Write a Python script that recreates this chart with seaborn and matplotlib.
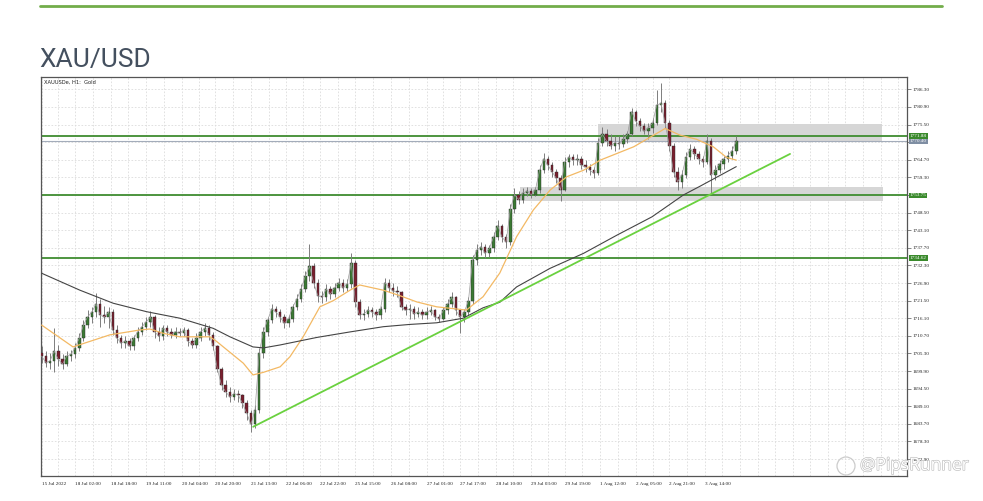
import numpy as np
import pandas as pd
import seaborn as sns
import matplotlib.pyplot as plt
import matplotlib.patheffects as pe
from matplotlib.lines import Line2D
from matplotlib.patches import Rectangle, Ellipse
import matplotlib.transforms as mtransforms

first_open = 1705.5
close = [1704.5, 1702.5, 1703.0, 1706.0, 1703.5, 1702.0, 1704.5, 1705.0, 1707.0, 1710.0,
         1714.0, 1716.5, 1718.0, 1720.5, 1717.0, 1716.5, 1718.0, 1712.5, 1710.0, 1708.5,
         1709.0, 1707.5, 1710.0, 1712.0, 1713.5, 1715.0, 1716.5, 1712.0, 1710.5, 1713.0,
         1712.0, 1711.0, 1712.0, 1711.5, 1712.5, 1709.0, 1708.0, 1710.0, 1712.0, 1713.0,
         1711.0, 1707.5, 1700.5, 1695.5, 1693.5, 1692.0, 1693.0, 1692.5, 1690.0, 1687.0,
         1683.5, 1688.0, 1705.5, 1712.0, 1715.5, 1719.0, 1718.0, 1716.5, 1714.5, 1716.0,
         1719.5, 1722.0, 1725.0, 1729.0, 1732.0, 1727.0, 1723.0, 1722.5, 1725.0, 1723.5,
         1725.5, 1727.0, 1725.5, 1726.5, 1733.0, 1721.0, 1717.0, 1717.5, 1718.5, 1718.0,
         1717.0, 1719.0, 1727.0, 1725.5, 1724.5, 1724.0, 1719.5, 1718.5, 1719.0, 1717.5,
         1718.0, 1717.0, 1718.0, 1718.5, 1716.5, 1716.0, 1718.5, 1720.5, 1722.5, 1718.5,
         1716.5, 1718.0, 1721.5, 1734.0, 1737.0, 1738.0, 1736.0, 1737.5, 1741.0, 1744.5,
         1741.0, 1739.5, 1749.5, 1754.0, 1752.5, 1754.5, 1755.0, 1754.0, 1755.5, 1761.5,
         1765.0, 1763.0, 1761.0, 1759.0, 1755.5, 1764.0, 1765.5, 1764.5, 1765.0, 1763.0,
         1762.5, 1761.5, 1760.5, 1770.0, 1772.5, 1770.5, 1769.0, 1770.0, 1769.5, 1771.0,
         1772.5, 1779.5, 1776.5, 1775.0, 1773.5, 1774.5, 1776.0, 1781.5, 1782.0, 1776.0,
         1769.0, 1761.0, 1758.0, 1760.0, 1765.5, 1768.0, 1766.5, 1765.0, 1764.0, 1770.5,
         1760.0, 1761.5, 1763.5, 1765.0, 1766.0, 1767.5, 1770.4]
high = [1707.5, 1706.0, 1705.5, 1713.0, 1708.0, 1705.0, 1706.0, 1706.5, 1708.5, 1711.5,
        1715.5, 1718.5, 1719.5, 1723.7, 1722.0, 1720.0, 1719.5, 1719.0, 1714.0, 1711.0,
        1710.5, 1710.0, 1711.0, 1713.5, 1715.0, 1716.5, 1718.2, 1717.0, 1713.5, 1714.0,
        1714.0, 1713.0, 1713.5, 1713.0, 1713.5, 1713.0, 1710.0, 1711.5, 1713.5, 1714.5,
        1714.0, 1712.0, 1708.0, 1701.0, 1697.0, 1695.0, 1694.5, 1694.0, 1693.0, 1691.0,
        1688.0, 1689.5, 1707.0, 1713.5, 1716.5, 1720.5, 1720.0, 1719.0, 1717.5, 1717.0,
        1720.5, 1723.5, 1726.5, 1730.5, 1739.0, 1733.0, 1728.0, 1724.5, 1726.5, 1726.0,
        1727.0, 1728.5, 1728.0, 1728.0, 1736.0, 1734.0, 1722.0, 1719.0, 1720.0, 1719.5,
        1719.0, 1720.0, 1728.5, 1728.0, 1727.0, 1726.0, 1724.5, 1720.5, 1720.5, 1720.0,
        1719.5, 1719.0, 1719.5, 1720.0, 1719.0, 1717.5, 1719.5, 1722.0, 1724.0, 1723.0,
        1719.0, 1719.0, 1722.5, 1735.5, 1739.0, 1739.5, 1739.0, 1738.5, 1742.5, 1746.2,
        1745.0, 1742.0, 1751.0, 1756.0, 1755.0, 1756.0, 1756.5, 1756.0, 1756.5, 1763.0,
        1766.7, 1766.0, 1764.0, 1762.0, 1760.0, 1765.5, 1766.5, 1766.5, 1766.5, 1766.0,
        1764.5, 1763.5, 1762.5, 1771.5, 1774.8, 1774.0, 1772.5, 1772.0, 1772.0, 1772.5,
        1773.5, 1780.5, 1780.0, 1777.5, 1776.0, 1776.0, 1777.5, 1786.0, 1788.2, 1783.0,
        1777.0, 1770.0, 1762.5, 1761.5, 1767.0, 1769.5, 1769.0, 1767.5, 1766.0, 1772.5,
        1771.5, 1763.0, 1764.5, 1766.0, 1767.5, 1769.0, 1772.0]
low = [1702.5, 1701.0, 1700.5, 1699.5, 1701.5, 1700.5, 1701.5, 1703.0, 1704.0, 1706.0,
       1709.0, 1713.0, 1714.5, 1716.5, 1713.5, 1714.5, 1713.0, 1711.0, 1708.5, 1707.0,
       1707.0, 1706.5, 1706.5, 1709.0, 1711.0, 1712.5, 1713.5, 1710.0, 1709.0, 1709.5,
       1710.5, 1710.0, 1710.0, 1710.5, 1710.5, 1707.5, 1707.0, 1707.0, 1709.0, 1710.5,
       1709.5, 1706.5, 1699.5, 1694.0, 1692.0, 1690.5, 1691.0, 1690.5, 1688.5, 1685.0,
       1681.3, 1682.5, 1687.0, 1704.0, 1710.5, 1714.5, 1716.5, 1715.0, 1713.0, 1713.5,
       1715.0, 1718.5, 1721.0, 1724.0, 1727.5, 1725.5, 1721.0, 1720.7, 1721.5, 1722.0,
       1722.5, 1724.5, 1724.0, 1724.5, 1725.5, 1719.5, 1716.0, 1715.5, 1716.5, 1716.5,
       1715.5, 1716.0, 1718.0, 1724.0, 1723.0, 1722.5, 1718.5, 1717.0, 1716.0, 1716.0,
       1716.5, 1716.0, 1716.0, 1717.0, 1715.5, 1715.0, 1715.5, 1717.5, 1719.5, 1717.0,
       1711.5, 1715.0, 1717.0, 1720.5, 1732.5, 1735.5, 1734.5, 1735.0, 1736.5, 1740.0,
       1739.5, 1737.5, 1738.5, 1748.5, 1751.0, 1751.5, 1753.5, 1753.0, 1753.5, 1754.5,
       1760.5, 1761.5, 1759.5, 1757.5, 1752.0, 1755.0, 1762.5, 1763.0, 1763.0, 1762.0,
       1761.0, 1760.0, 1759.0, 1760.0, 1769.0, 1769.0, 1768.0, 1767.5, 1768.0, 1768.5,
       1770.0, 1772.0, 1775.0, 1773.5, 1772.5, 1771.0, 1773.0, 1775.5, 1779.5, 1774.5,
       1767.5, 1759.5, 1755.4, 1756.0, 1759.0, 1764.5, 1765.0, 1763.5, 1762.5, 1763.5,
       1754.4, 1758.5, 1760.5, 1762.0, 1764.0, 1765.0, 1766.5]

# moving averages read at a few points along the lines
ma_fast_h = [0, 15, 32.6, 47, 51.8, 58, 66, 80.5, 83.6, 96.4, 101, 106, 114, 118.7, 125, 133,
             139.4, 147.4, 152, 163.3, 171.3, 179.3, 188.8, 203, 211, 219, 227, 235, 243, 251,
             259, 267, 283, 294, 298, 305, 313, 321, 327.4, 332]
ma_fast = [1714.0, 1707.3, 1711.0, 1712.5, 1712.8, 1711.5, 1710.4, 1710.4, 1709.0, 1702.3,
           1698.7, 1699.5, 1701.2, 1704.3, 1710.4, 1719.6, 1721.5, 1724.7, 1726.3, 1724.7,
           1723.0, 1721.1, 1719.6, 1718.6, 1722.7, 1730.0, 1741.1, 1749.3, 1755.4, 1759.5,
           1761.5, 1764.6, 1768.7, 1772.8, 1774.3, 1772.3, 1771.0, 1768.7, 1765.4, 1764.6]
ma_slow_h = [0, 18.3, 34.2, 50.2, 66.1, 82, 90, 101, 106, 114, 131.5, 147.4, 163.3, 176,
             188.8, 201.5, 211, 219, 227, 243, 259, 275, 291.7, 306.7, 314.7, 332]
ma_slow = [1729.9, 1724.7, 1720.7, 1718.1, 1716.1, 1713.0, 1710.4, 1707.3, 1707.0, 1707.9,
           1710.2, 1711.9, 1713.5, 1714.2, 1714.7, 1716.1, 1719.3, 1721.0, 1725.7, 1731.4,
           1736.0, 1741.6, 1747.2, 1753.9, 1756.6, 1762.6]

levels = [1771.88, 1753.75, 1734.62]
bid = 1770.40
zone_start = [266, 228.6]
zone_end = [401.5, 402.3]
zone_low = [1770.5, 1752.0]
zone_high = [1775.6, 1756.4]
trend_h = [101.1, 357.7]
trend_p = [1682.8, 1766.5]

tick_h = [0, 16, 33, 50, 67, 83, 100, 117, 133, 150, 167, 184, 200, 217, 234, 250, 267,
          284, 300, 317]
tick_labels = ['15 Jul 2022', '18 Jul 02:00', '18 Jul 18:00', '19 Jul 11:00', '20 Jul 04:00',
               '20 Jul 20:00', '21 Jul 13:00', '22 Jul 06:00', '22 Jul 22:00', '25 Jul 15:00',
               '26 Jul 08:00', '27 Jul 01:00', '27 Jul 17:00', '28 Jul 10:00', '29 Jul 03:00',
               '29 Jul 19:00', '1 Aug 12:00', '2 Aug 05:00', '2 Aug 21:00', '3 Aug 14:00']
y_ticks = [1672.9, 1678.3, 1683.7, 1689.1, 1694.5, 1699.9, 1705.3, 1710.7, 1716.1, 1721.5,
           1726.9, 1732.3, 1737.7, 1743.1, 1748.5, 1753.9, 1759.3, 1764.7, 1770.1, 1775.5,
           1780.9, 1786.3]
hidden_y = [1753.9, 1770.1]

sns.set_style("white")
plt.rcParams['font.family'] = ['DejaVu Sans']
tick_font = ['Liberation Serif', 'DejaVu Serif']

df = pd.DataFrame({'h': np.arange(len(close)) * 2, 'close': close, 'high': high, 'low': low})
df['open'] = [first_open] + close[:-1]
df['bottom'] = df[['open', 'close']].min(axis=1)
df['body'] = (df['close'] - df['open']).abs().clip(lower=0.35)
df['color'] = np.where(df['close'] >= df['open'], '#3b7a33', '#7a1f2e')

fig = plt.figure(figsize=(9.83, 5.01), dpi=100)
ax = fig.add_axes([41 / 983, 25 / 501, 866 / 983, 399 / 501])

# zones
for s, e, lo, hi in zip(zone_start, zone_end, zone_low, zone_high):
    ax.add_patch(Rectangle((s, lo), e - s, hi - lo, fc='#d6d6d6', ec='none', zorder=1))

# support / resistance levels
for lvl in levels:
    ax.axhline(lvl, color='#3f8c30', lw=1.3, zorder=2)
ax.axhline(bid, color='#a3acba', lw=0.8, zorder=2)

# candles
ax.vlines(df['h'], df['low'], df['high'], color='#7d7d7d', lw=0.7, zorder=3)
ax.bar(df['h'], df['body'], bottom=df['bottom'], width=1.2, color=df['color'],
       edgecolor='#2b2b2b', linewidth=0.3, zorder=4)
sns.lineplot(x=df['h'], y=df['close'], ax=ax, color='#9c9c9c', lw=0.5, zorder=5)

# moving averages and trend line
sns.lineplot(x=ma_fast_h, y=ma_fast, ax=ax, color='#f3b964', lw=0.9, zorder=5)
sns.lineplot(x=ma_slow_h, y=ma_slow, ax=ax, color='#444444', lw=0.8, zorder=5)
sns.lineplot(x=trend_h, y=trend_p, ax=ax, color='#6ad13f', lw=1.3, zorder=6)

ax.set_xlim(-0.3, 413.6)
ax.set_ylim(1667.7, 1790.1)
ax.set_xlabel('')
ax.set_ylabel('')

ax.set_xticks(tick_h)
ax.set_xticklabels(tick_labels, fontsize=3.7, ha='left', color='#222222', family=tick_font)
ax.set_xticks([(a + b) / 2 for a, b in zip(tick_h[:-1], tick_h[1:])] +
              [tick_h[-1] + 8.4 * k for k in range(1, 12)], minor=True)
ax.yaxis.tick_right()
ax.set_yticks(y_ticks)
ax.set_yticklabels(['' if t in hidden_y else f'{t:.2f}' for t in y_ticks],
                   fontsize=3.7, color='#222222', family=tick_font)
ax.tick_params(axis='x', which='major', length=3, width=0.5, pad=1.5, color='#555555')
ax.tick_params(axis='x', which='minor', length=0)
ax.tick_params(axis='y', length=3, width=0.5, pad=1, color='#555555')
ax.grid(True, which='both', ls=(0, (2, 2)), color='#dcdcdc', lw=0.6)
ax.set_axisbelow(True)
for sp in ax.spines.values():
    sp.set_visible(True)
    sp.set_color('#555555')
    sp.set_linewidth(0.9)

# price tags on the right
trans = mtransforms.blended_transform_factory(ax.transAxes, ax.transData)
ax.text(1.003, bid, f'{bid:.2f}', transform=trans, fontsize=3.7, color='white', va='center',
        ha='left', zorder=7, clip_on=False, family=tick_font,
        bbox=dict(fc='#7f8ea3', ec='none', pad=0.7))
for lvl in levels:
    ax.text(1.003, lvl, f'{lvl:.2f}', transform=trans, fontsize=3.7, color='white',
            va='center', ha='left', zorder=8, clip_on=False, family=tick_font,
            bbox=dict(fc='#3a8a2c', ec='none', pad=0.7))

ax.text(0.003, 0.993, 'XAUUSDe, H1:  Gold', transform=ax.transAxes, fontsize=3.7,
        va='top', ha='left', color='#222222')

# page decorations
fig.add_artist(Line2D([40 / 983, 942 / 983], [1 - 6 / 501] * 2, color='#72ad4a', lw=2))
fig.text(39 / 983, 1 - 60 / 501, 'XAU/USD', fontsize=19, family=['Roboto', 'DejaVu Sans'],
         color='#44505f', va='center', ha='left')
fig.text(860 / 983, 1 - 466 / 501, '@PipsRunner', fontsize=12.5,
         family=['Open Sans', 'DejaVu Sans'], color='white', va='center', ha='left',
         path_effects=[pe.withStroke(linewidth=0.9, foreground='#bcbcbc')])
fig.add_artist(Ellipse((846 / 983, 1 - 466 / 501), 18 / 983, 18 / 501,
                       transform=fig.transFigure, fc='none', ec='#cccccc', lw=0.9))

fig.savefig('out.png', dpi=100)
